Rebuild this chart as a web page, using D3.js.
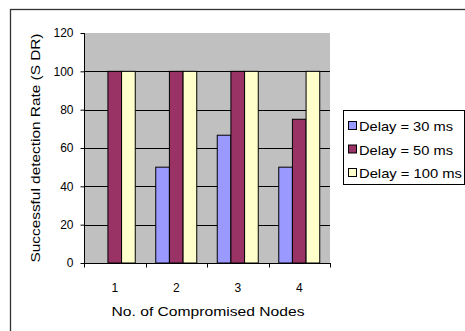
<!DOCTYPE html>
<html>
<head>
<meta charset="utf-8">
<script src="https://cdn.jsdelivr.net/npm/d3@7"></script>
<style>
  html, body { margin: 0; padding: 0; background: #fff; }
  svg { display: block; }
  text { font-family: Arial, "Liberation Sans", sans-serif; fill: #000; }
</style>
</head>
<body>
<svg id="chart" width="465" height="331"></svg>
<script>
// Number of compromised nodes on the x axis
const categories = ["1", "2", "3", "4"];
// Series names and their detection rates (%)
const seriesNames = ["Delay = 30 ms", "Delay = 50 ms", "Delay = 100 ms"];
const delay30 = [0, 50, 66.67, 50];
const delay50 = [100, 100, 100, 75];
const delay100 = [100, 100, 100, 100];
const yTicks = [0, 20, 40, 60, 80, 100, 120];

const seriesValues = [delay30, delay50, delay100];
const colors = ["#9999FF", "#993366", "#FFFFCC"];

const svg = d3.select("#chart");
const W = 465, H = 331;

// Outer chart frame
svg.append("rect")
  .attr("x", 10.5).attr("y", 9.5)
  .attr("width", W + 10).attr("height", H + 10)
  .attr("fill", "#fff").attr("stroke", "#333").attr("stroke-width", 1.3);

const plot = { left: 84, right: 330, top: 33, bottom: 263 };

const x0 = d3.scaleBand()
  .domain(categories)
  .range([plot.left, plot.right])
  .paddingInner(0).paddingOuter(0);

// 150% gap width: three bars plus 1.5 bar widths of gap per group
const x1 = d3.scaleBand()
  .domain(d3.range(seriesNames.length))
  .range([0, x0.bandwidth()])
  .paddingInner(0)
  .paddingOuter(0.75);

const y = d3.scaleLinear().domain([0, 120]).range([plot.bottom, plot.top]);

// Plot area background
svg.append("rect")
  .attr("x", plot.left).attr("y", plot.top)
  .attr("width", plot.right - plot.left).attr("height", plot.bottom - plot.top)
  .attr("fill", "#C0C0C0");

// Horizontal gridlines
svg.append("g")
  .selectAll("line")
  .data(yTicks.filter(d => d > 0 && d < 120))
  .join("line")
  .attr("x1", plot.left).attr("x2", plot.right)
  .attr("y1", d => Math.round(y(d)) + 0.5).attr("y2", d => Math.round(y(d)) + 0.5)
  .attr("stroke", "#000").attr("stroke-width", 1);

// Bars
const groups = svg.append("g")
  .selectAll("g")
  .data(categories)
  .join("g")
  .attr("transform", d => `translate(${x0(d)},0)`);

groups.selectAll("rect")
  .data((c, i) => seriesValues.map((vals, s) => ({ s, v: vals[i] })))
  .join("rect")
  .filter(d => d.v > 0)
  .attr("x", d => x1(d.s))
  .attr("y", d => y(d.v))
  .attr("width", x1.bandwidth())
  .attr("height", d => y(0) - y(d.v))
  .attr("fill", d => colors[d.s])
  .attr("stroke", "#000")
  .attr("stroke-width", 1);

// Y axis
const yAxis = d3.axisLeft(y)
  .tickValues(yTicks)
  .tickSize(4)
  .tickPadding(7)
  .tickFormat(d3.format("d"));

const gy = svg.append("g")
  .attr("transform", `translate(${plot.left + 0.5},0)`)
  .call(yAxis);
gy.select(".domain").attr("stroke", "#000").attr("d", `M0,${plot.top}V${plot.bottom}`);
gy.selectAll(".tick line").attr("stroke", "#000");
gy.selectAll(".tick text")
  .attr("font-size", 12).attr("font-family", "Arial, 'Liberation Sans', sans-serif")
  .attr("fill", "#000");

// X axis: tick marks at category boundaries, labels at centres
const gx = svg.append("g")
  .attr("transform", `translate(0,${plot.bottom + 0.5})`);
gx.append("line")
  .attr("x1", plot.left).attr("x2", plot.right + 1)
  .attr("stroke", "#000");
const boundaries = categories.map(c => x0(c)).concat([plot.right]);
gx.selectAll("line.tk")
  .data(boundaries)
  .join("line")
  .attr("class", "tk")
  .attr("x1", d => Math.round(d) + 0.5).attr("x2", d => Math.round(d) + 0.5)
  .attr("y1", 0).attr("y2", 4)
  .attr("stroke", "#000");
gx.selectAll("text")
  .data(categories)
  .join("text")
  .attr("x", d => x0(d) + x0.bandwidth() / 2)
  .attr("y", 28)
  .attr("text-anchor", "middle")
  .attr("font-size", 12)
  .text(d => d);

// Axis titles
svg.append("text")
  .attr("x", 208).attr("y", 316)
  .attr("text-anchor", "middle")
  .attr("font-size", 13)
  .attr("textLength", 193)
  .attr("lengthAdjust", "spacingAndGlyphs")
  .text("No. of Compromised Nodes");

svg.append("text")
  .attr("transform", "translate(40,148) rotate(-90)")
  .attr("text-anchor", "middle")
  .attr("font-size", 13)
  .attr("textLength", 229)
  .attr("lengthAdjust", "spacingAndGlyphs")
  .text("Successful detection Rate (S DR)");

// Legend
const legend = svg.append("g");
legend.append("rect")
  .attr("x", 343.5).attr("y", 110.5)
  .attr("width", 121).attr("height", 74)
  .attr("fill", "#fff").attr("stroke", "#000").attr("stroke-width", 1);

const rows = legend.selectAll("g")
  .data(seriesNames)
  .join("g")
  .attr("transform", (d, i) => `translate(0,${126 + i * 23.5})`);
rows.append("rect")
  .attr("x", 348.5).attr("y", -4.5)
  .attr("width", 8).attr("height", 8)
  .attr("fill", (d, i) => colors[i])
  .attr("stroke", "#000").attr("stroke-width", 1);
const legendWidths = [94, 94, 103];
rows.append("text")
  .attr("x", 359).attr("y", 5)
  .attr("font-size", 13)
  .attr("textLength", (d, i) => legendWidths[i])
  .attr("lengthAdjust", "spacingAndGlyphs")
  .text(d => d);
</script>
</body>
</html>
